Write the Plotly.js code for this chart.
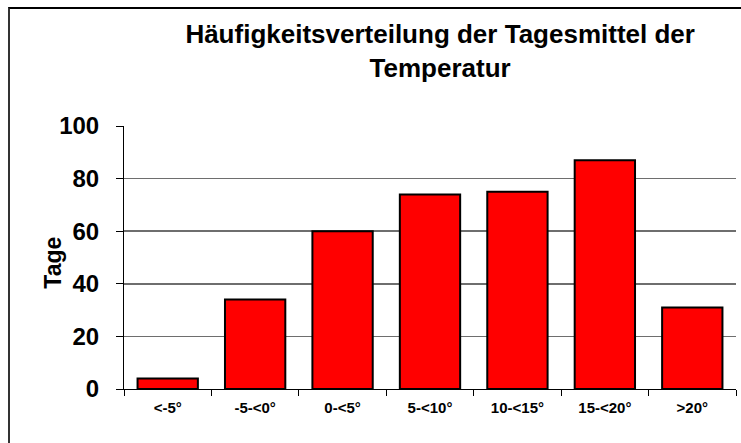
<!DOCTYPE html>
<html><head><meta charset="utf-8">
<script src="https://cdn.plot.ly/plotly-3.0.1.min.js"></script>
<style>
html,body{margin:0;padding:0;background:#fff;}
#wrap{position:relative;width:741px;height:443px;overflow:hidden;}
#chart{width:741px;height:443px;}
#frame{position:absolute;left:8px;top:7px;width:800px;height:500px;border-left:2px solid #333;border-top:2px solid #000;pointer-events:none;}
</style>
</head><body><div id="wrap"><div id="chart"></div><div id="frame"></div></div>
<script>
const categories = ['<-5°', '-5-<0°', '0-<5°', '5-<10°', '10-<15°', '15-<20°', '>20°'];
const days = [4, 34, 60, 74, 75, 87, 31];
const yTicks = [0, 20, 40, 60, 80, 100];
const titleText = 'Häufigkeitsverteilung der Tagesmittel der<br>Temperatur';
const yTitle = 'Tage';

const FONT = 'Liberation Sans, Arial, sans-serif';
const trace = {
  type: 'bar', x: categories, y: days,
  marker: {color: '#ff0000', line: {color: '#000000', width: 2}},
  hoverinfo: 'none'
};
const layout = {
  width: 741, height: 443,
  margin: {l: 124, r: 5, t: 126, b: 54, pad: 0},
  paper_bgcolor: 'rgba(0,0,0,0)', plot_bgcolor: 'rgba(0,0,0,0)',
  bargap: 0.31,
  showlegend: false,
  font: {family: FONT, color: '#000'},
  title: {
    text: titleText,
    font: {family: FONT, size: 26, weight: 'bold', color: '#000'},
    x: 0.594, xanchor: 'center', xref: 'container',
    y: 0.903, yanchor: 'top', yref: 'container'
  },
  xaxis: {
    type: 'category', tickson: 'boundaries',
    ticks: 'outside', ticklen: 6, tickwidth: 1, tickcolor: '#000',
    showline: true, linecolor: '#000', linewidth: 1,
    showgrid: false, zeroline: false,
    ticklabelstandoff: 5,
    tickfont: {family: FONT, size: 15, weight: 'bold', color: '#000'},
    fixedrange: true
  },
  yaxis: {
    range: [0, 100], tickvals: yTicks,
    ticks: 'outside', ticklen: 7, tickwidth: 1, tickcolor: '#000',
    showline: true, linecolor: '#000', linewidth: 1,
    showgrid: true, gridcolor: '#6e6e6e', gridwidth: 1.5,
    zeroline: false,
    ticklabelstandoff: 12,
    tickfont: {family: FONT, size: 24, weight: 'bold', color: '#000'},
    fixedrange: true
  },
  annotations: [
    {text: yTitle, xref: 'paper', yref: 'paper', x: (52.7-124)/612, y: (389-263)/263,
     xanchor: 'center', yanchor: 'middle', textangle: -90, showarrow: false,
     font: {family: FONT, size: 23, weight: 'bold', color: '#000'}}
  ]
};
Plotly.newPlot('chart', [trace], layout, {staticPlot: true, displayModeBar: false});
</script></body></html>
